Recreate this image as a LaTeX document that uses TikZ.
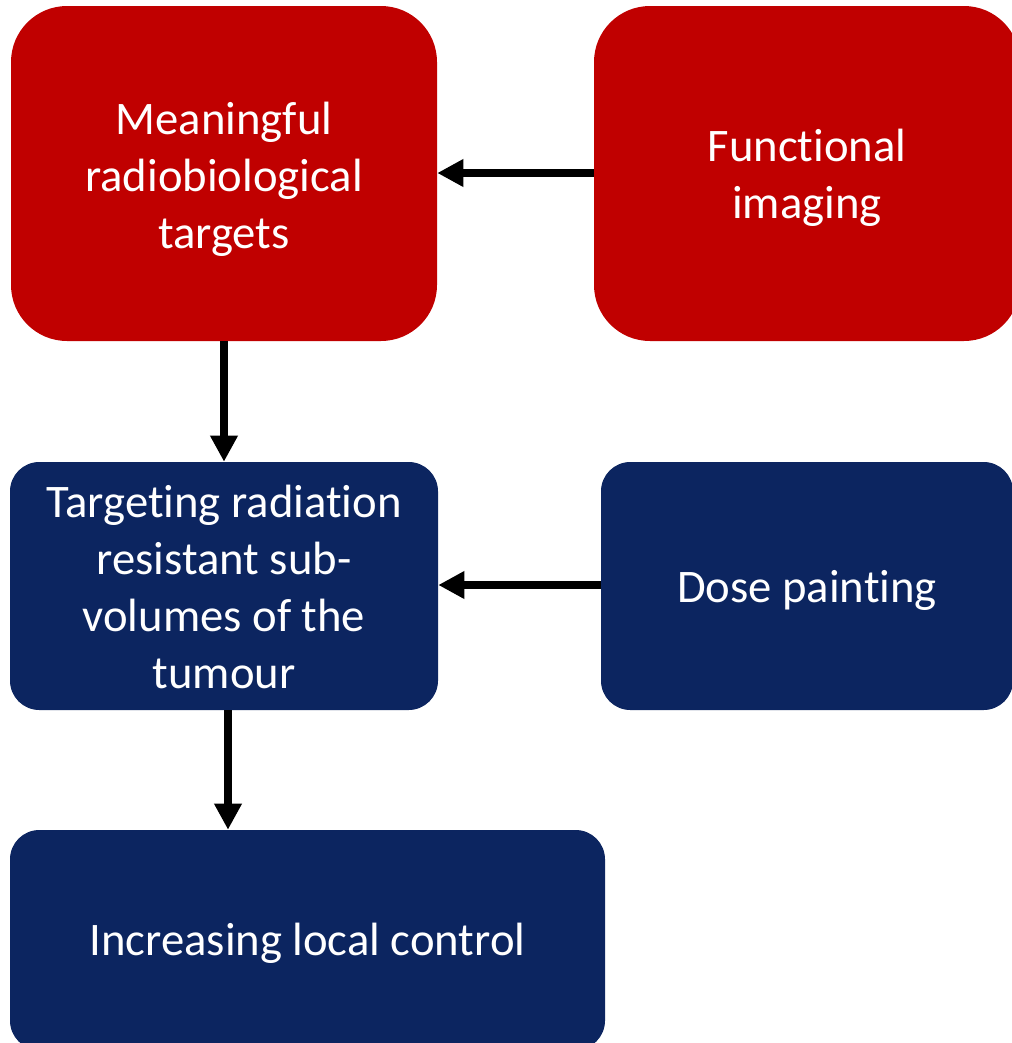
\documentclass[tikz,border=0pt]{standalone}
\usepackage{fontspec}
\setmainfont{Carlito}[Ligatures=NoCommon]
\usetikzlibrary{arrows.meta}
\definecolor{boxred}{HTML}{C00000}
\definecolor{boxblue}{HTML}{0C2560}
\begin{document}
\begin{tikzpicture}[x=0.75pt,y=-0.75pt,
  box/.style={rectangle,inner sep=0pt},
  redbox/.style={box,fill=boxred,rounded corners=42pt},
  bluebox/.style={box,fill=boxblue,rounded corners=22pt},
  lbl/.style={text=white,align=center,inner sep=0pt,
    font=\fontsize{35}{42.75}\selectfont},
  conn/.style={line width=6pt,-{Triangle[length=19.5pt,width=19.5pt]}}]
\useasboundingbox (0,0) rectangle (1012,1043);
\node[redbox,minimum width=426*0.75pt,minimum height=335*0.75pt] (mrt) at (224,173.5) {};
\node[redbox,minimum width=426*0.75pt,minimum height=335*0.75pt] (fi) at (807,173.5) {};
\node[bluebox,minimum width=428*0.75pt,minimum height=248*0.75pt] (trr) at (224,586) {};
\node[bluebox,minimum width=412*0.75pt,minimum height=248*0.75pt] (dp) at (807,586) {};
\node[bluebox,minimum width=595*0.75pt,minimum height=220*0.75pt] (ilc) at (307.5,940) {};
\node[lbl] (mrtt) at ([yshift=-4.5pt]mrt.center) {Meaningful\\radiobiological\\targets};
\node[lbl] (fit) at ([yshift=-3pt]fi.center) {Functional\\imaging};
\node[lbl] (trrt) at ([yshift=-0.5pt]trr.center) {Targeting radiation\\resistant sub-\\volumes of the\\tumour};
\node[lbl] (dpt) at ([yshift=-3.5pt]dp.center) {Dose painting};
\node[lbl] (ilct) at ([yshift=-2.5pt]ilc.center) {Increasing local control};
\draw[conn] (fi.west |- 0,173) -- (mrt.east |- 0,173);
\draw[conn] (mrt.south -| 224,0) -- (trr.north -| 224,0);
\draw[conn] (dp.west |- 0,585) -- (trr.east |- 0,585);
\draw[conn] (trr.south -| 228,0) -- (ilc.north -| 228,0);
\end{tikzpicture}
\end{document}
